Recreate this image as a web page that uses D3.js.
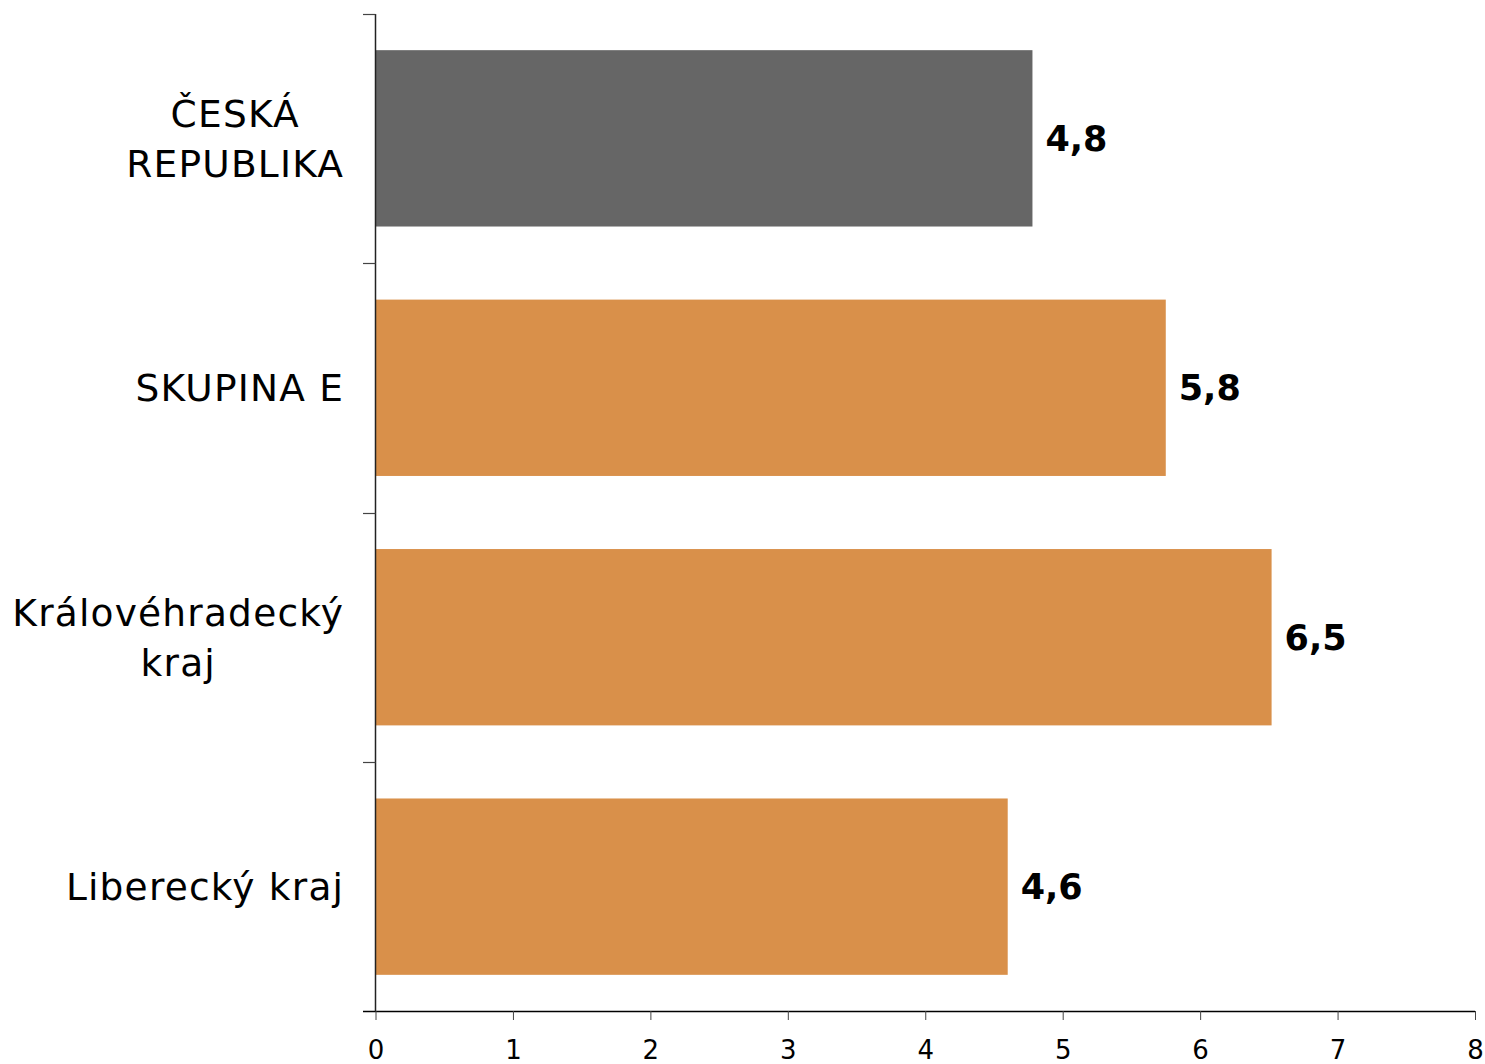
<!DOCTYPE html>
<html><head><meta charset="utf-8">
<script src="https://cdn.jsdelivr.net/npm/d3@7"></script>
<style>body{margin:0;background:#fff}</style>
</head><body>
<svg id="c" width="1485" height="1064"></svg>
<script>
const categories = [["ČESKÁ","REPUBLIKA"],["SKUPINA E"],["Královéhradecký","kraj"],["Liberecký kraj"]];
const values = [4.78, 5.75, 6.52, 4.6];
const valueLabels = ["4,8","5,8","6,5","4,6"];
const barColors = ["#666666","#D9904A","#D9904A","#D9904A"];
const xTicks = [0,1,2,3,4,5,6,7,8];

const svg = d3.select("#c");
const font = "DejaVu Sans, Verdana, sans-serif";
const x = d3.scaleLinear().domain([0,8]).range([375.5,1475]);
const y = d3.scaleBand().domain(d3.range(categories.length)).range([14,1011]).paddingInner(0.293).paddingOuter(0.145);

// bars
svg.selectAll("rect.bar").data(values).join("rect")
  .attr("x", x(0)).attr("y",(d,i)=>y(i))
  .attr("width", d=>x(d)-x(0)).attr("height", y.bandwidth())
  .attr("fill",(d,i)=>barColors[i]);

// value labels
svg.selectAll("text.val").data(values).join("text")
  .attr("x", d=>x(d)+13).attr("y",(d,i)=>y(i)+y.bandwidth()/2)
  .attr("dy","0.36em")
  .attr("font-family",font).attr("font-weight","bold").attr("font-size",35)
  .text((d,i)=>valueLabels[i]);

// x axis
const xAxis = svg.append("g").attr("transform","translate(0,1011)")
  .call(d3.axisBottom(x).tickValues(xTicks).tickSize(9).tickPadding(21).tickFormat(d3.format("d")));
xAxis.select(".domain").attr("d","M363,0.5H1475").attr("stroke","#000").attr("stroke-width",1.5);
xAxis.selectAll(".tick line").attr("stroke","#444");
xAxis.selectAll("text").attr("font-family",font).attr("font-size",26).attr("fill","#000");

// y axis line and boundary ticks
const step = y.step();
const bounds = d3.range(categories.length+1).map(i=> i===0 ? 14 : (i===categories.length ? 1011 : y(i)-(step-y.bandwidth())/2));
svg.append("line").attr("x1",375.5).attr("x2",375.5).attr("y1",14).attr("y2",1011).attr("stroke","#222").attr("stroke-width",1.5);
svg.selectAll("line.yt").data(bounds.slice(0,-1)).join("line")
  .attr("x1",363).attr("x2",375.5).attr("y1",d=>Math.round(d)+0.5).attr("y2",d=>Math.round(d)+0.5)
  .attr("stroke","#444").attr("stroke-width",1.2);

// category labels
const lineH = 50;
const ls = 1.2;
categories.forEach((lines,i)=>{
  const g = svg.append("g");
  const cy = y(i)+y.bandwidth()/2;
  const t = g.append("text").attr("font-family",font).attr("font-size",37.5).attr("letter-spacing",ls).attr("fill","#000").attr("text-anchor","start");
  const spans = lines.map((ln,j)=> t.append("tspan").attr("x",0).attr("y", cy + (j-(lines.length-1)/2)*lineH).attr("dy","0.36em").text(ln));
  const widths = spans.map(s=> s.node().getComputedTextLength() - ls);
  const maxW = d3.max(widths);
  spans.forEach((s,j)=> s.attr("x", 343 - maxW/2 - widths[j]/2));
});
</script>
</body></html>
